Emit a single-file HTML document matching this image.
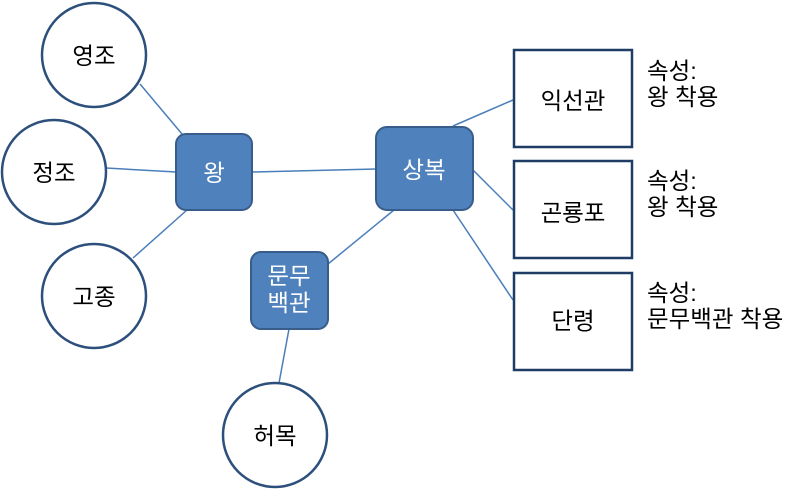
<!DOCTYPE html>
<html><head><meta charset="utf-8"><style>
body{margin:0;background:#fff;}
svg text{font-family:"Liberation Sans","Noto Sans CJK KR",sans-serif;}
</style></head><body>
<svg width="800" height="489" viewBox="0 0 800 489" xmlns="http://www.w3.org/2000/svg">
<g stroke="#4a7ebb" stroke-width="1.5">
<line x1="140" y1="84" x2="182" y2="134"/>
<line x1="106" y1="168" x2="176" y2="172"/>
<line x1="133" y1="258" x2="187" y2="210"/>
<line x1="252" y1="172" x2="376" y2="169"/>
<line x1="453" y1="126" x2="513" y2="100"/>
<line x1="473" y1="170" x2="513" y2="210"/>
<line x1="453" y1="210" x2="513" y2="300"/>
<line x1="394" y1="210" x2="328" y2="264"/>
<line x1="289" y1="329" x2="279" y2="383"/>
</g>
<g fill="#fff" stroke="#2c4f7c" stroke-width="2.5">
<circle cx="94" cy="55" r="52"/>
<circle cx="54" cy="172" r="52"/>
<circle cx="94" cy="296" r="52"/>
<circle cx="275" cy="435" r="52"/>
</g>
<g fill="#fff" stroke="#1f3c66" stroke-width="2.5">
<rect x="514" y="50" width="118" height="97"/>
<rect x="514" y="161" width="118" height="97"/>
<rect x="514" y="273" width="118" height="97"/>
</g>
<g fill="#4f81bd" stroke="#385d8a" stroke-width="2">
<rect x="176" y="134" width="76" height="76" rx="10"/>
<rect x="376" y="127" width="97" height="83" rx="11"/>
<rect x="251" y="252" width="77" height="77" rx="10"/>
</g>
<g font-size="23.5" text-anchor="middle" fill="#000">
<text x="94" y="64">영조</text>
<text x="54" y="181">정조</text>
<text x="94" y="305">고종</text>
<text x="275" y="444">허목</text>
<text x="573" y="109">익선관</text>
<text x="573" y="221">곤룡포</text>
<text x="573" y="329">단령</text>
</g>
<g font-size="23.5" text-anchor="middle" fill="#fff">
<text x="214" y="181">왕</text>
<text x="424" y="178">상복</text>
<text x="289" y="284">문무</text>
<text x="289" y="311">백관</text>
</g>
<g font-size="23.5" fill="#000">
<text x="647" y="79">속성:</text>
<text x="647" y="105">왕 착용</text>
<text x="647" y="189">속성:</text>
<text x="647" y="215">왕 착용</text>
<text x="647" y="301">속성:</text>
<text x="647" y="327">문무백관 착용</text>
</g>
</svg>
</body></html>
